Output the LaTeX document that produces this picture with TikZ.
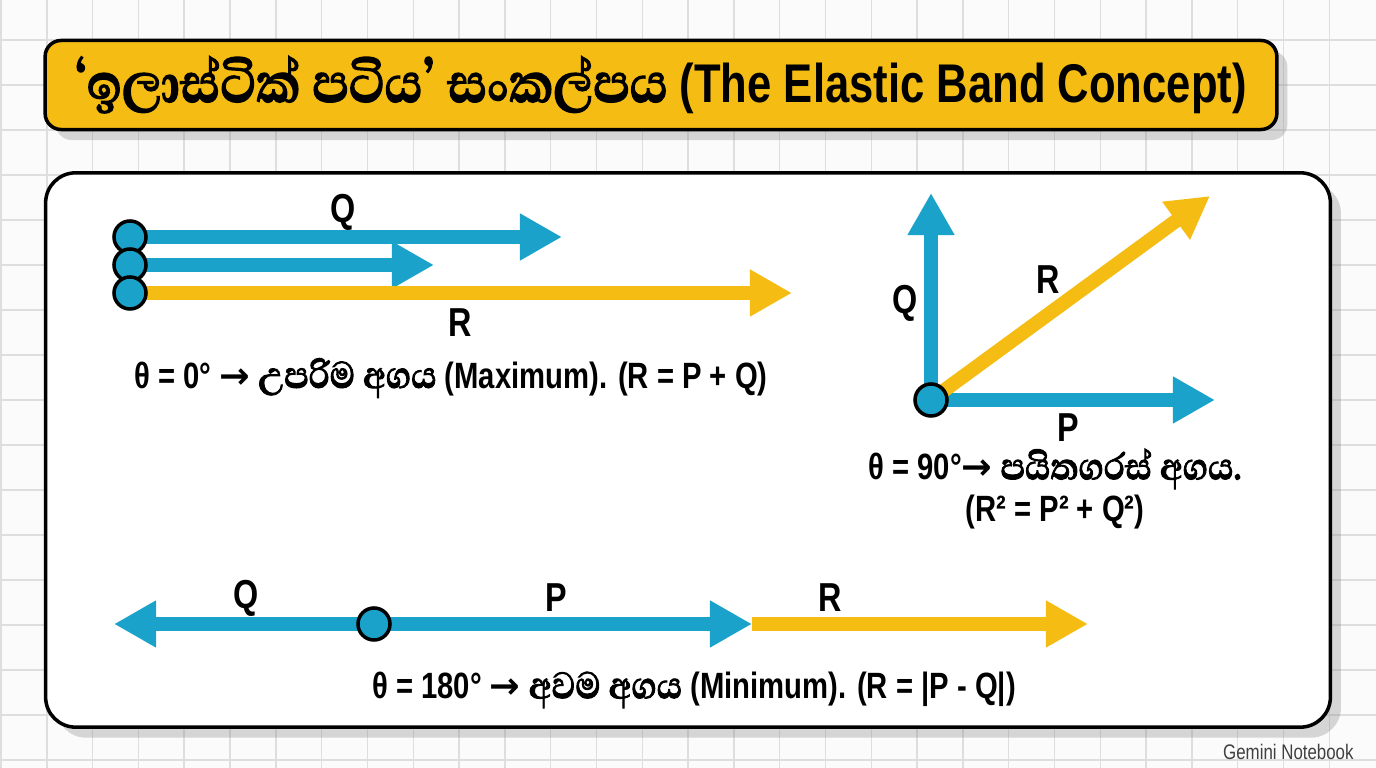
\documentclass[tikz,border=0pt]{standalone}
\usepackage{fontspec}
\setmainfont[FakeStretch=0.8]{Liberation Sans}
\newfontfamily\sinfont[Script=Sinhala,Scale=1.3,FakeStretch=0.88,FakeBold=2]{Abhaya Libre}
\newfontfamily\symfont{DejaVu Sans}
\usetikzlibrary{arrows.meta,shadows}
\definecolor{vecblue}{RGB}{27,162,202}
\definecolor{vecyellow}{RGB}{245,189,20}
\definecolor{gridgray}{RGB}{222,222,222}

\begin{document}
\begin{tikzpicture}[x=0.01cm,y=-0.01cm]
	\tikzset{
		bluevec/.style={draw=vecblue,line width=0.14cm,-{Triangle[length=0.42cm,width=0.44cm]}},
		yelvec/.style={draw=vecyellow,line width=0.14cm,-{Triangle[length=0.42cm,width=0.44cm]}},
		joint/.style={circle,fill=vecblue,draw=black,line width=1pt,minimum size=0.32cm,inner sep=0pt},
		veclabel/.style={font=\bfseries\fontsize{11.5}{13}\selectfont},
		caption/.style={font=\bfseries\fontsize{10.4}{12}\selectfont,align=center},
		titlebox/.style={fill=vecyellow,draw=black,line width=1pt,rounded corners=0.16cm,
			minimum width=12.31cm,minimum height=0.89cm,
			drop shadow={opacity=0.3,shadow xshift=3pt,shadow yshift=-3pt}},
		panel/.style={fill=white,draw=black,line width=1pt,rounded corners=0.3cm,
			minimum width=12.84cm,minimum height=5.54cm,
			drop shadow={opacity=0.3,shadow xshift=3pt,shadow yshift=-3pt}}
	}
	\fill[white!97!gray] (0,0) rectangle (1376,768);
	\useasboundingbox (0,0) rectangle (1376,768);
	% grid paper
	\foreach \gx in {0,...,29}
		\draw[gridgray] (1+\gx*45.8,0) -- (1+\gx*45.8,768);
	\foreach \gy in {0,...,16}
		\draw[gridgray] (0,40+\gy*45) -- (1376,40+\gy*45);

	\node[titlebox] (title) at (661,85)
		{\bfseries\fontsize{15.5}{18}\selectfont {\sinfont ‘ඉලාස්ටික් පටිය’ සංකල්පය} (The Elastic Band Concept)};
	\node[panel] (panel) at (688,450) {};

	% theta = 0
	\coordinate (A1) at (130,237);
	\coordinate (A2) at (130,265);
	\coordinate (A3) at (130,293);
	\coordinate (Q1) at (562,237);
	\coordinate (P1) at (434,265);
	\coordinate (R1) at (792,293);
	\draw[bluevec] (A1) -- (Q1);
	\draw[bluevec] (A2) -- (P1);
	\draw[yelvec] (A3) -- (R1);
	\node[joint] (o1a) at (A1) {};
	\node[joint] (o1b) at (A2) {};
	\node[joint] (o1c) at (A3) {};
	\node[veclabel] (lq1) at (343,212) {Q};
	\node[veclabel] (lr1) at (460,323) {R};
	\node[caption] (cap1) at (451,378) {θ = 0° {\symfont →} {\sinfont උපරිම අගය} (Maximum). (R = P + Q)};

	% theta = 90
	\coordinate (O2) at (931,400);
	\coordinate (Q2) at (931,193);
	\coordinate (P2) at (1215,400);
	\coordinate (R2) at (1210,196);
	\draw[bluevec] (O2) -- (Q2);
	\draw[bluevec] (O2) -- (P2);
	\draw[yelvec] (O2) -- (R2);
	\node[joint] (o2) at (O2) {};
	\node[veclabel] (lq2) at (905,303) {Q};
	\node[veclabel] (lr2) at (1048,280) {R};
	\node[veclabel] (lp2) at (1068,428) {P};
	\node[caption] (cap2) at (1055,489) {θ = 90°{\symfont →} {\sinfont පයිතගරස් අගය.}\\(R² = P² + Q²)};

	% theta = 180
	\coordinate (O3) at (374,624);
	\coordinate (Q3) at (114,624);
	\coordinate (P3) at (752,624);
	\coordinate (R3) at (1088,624);
	\draw[yelvec] (P3) -- (R3);
	\draw[bluevec] (O3) -- (Q3);
	\draw[bluevec] (O3) -- (P3);
	\node[joint] (o3) at (O3) {};
	\node[veclabel] (lq3) at (246,598) {Q};
	\node[veclabel] (lp3) at (556,598) {P};
	\node[veclabel] (lr3) at (830,598) {R};
	\node[caption] (cap3) at (694,690) {θ = 180° {\symfont →} {\sinfont අවම අගය} (Minimum). (R = |P - Q|)};

	\node[anchor=east,font=\fontsize{6}{7}\selectfont,text=black!75] (mark) at (1366,752) {Gemini Notebook};
\end{tikzpicture}
\end{document}
